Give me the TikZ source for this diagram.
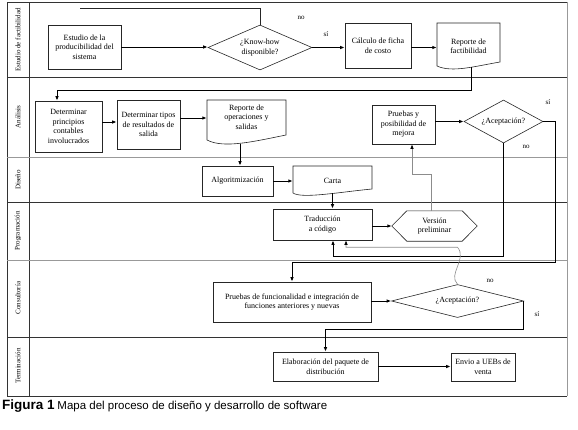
\documentclass[tikz,border=0pt]{standalone}
\usepackage{fontspec}
\setmainfont{Liberation Serif}
\newfontfamily\capfont{Liberation Sans}
\usetikzlibrary{shapes.geometric,arrows.meta,calc}
\begin{document}
\begin{tikzpicture}[x=1pt,y=-1pt,
  box/.style={draw=black!85, line width=0.6pt, rectangle, align=center, inner sep=1pt, font=\fontsize{8}{9.5}\selectfont},
  txt/.style={rectangle, align=center, inner sep=1pt, font=\fontsize{8}{9.5}\selectfont},
  dia/.style={draw=black!85, line width=0.6pt, diamond, align=center, inner sep=0pt, font=\fontsize{8}{9.5}\selectfont},
  shp/.style={draw=black!85, line width=0.6pt},
  arr/.style={line width=1pt, black, -{Latex[length=4.5pt,width=3.5pt]}},
  garr/.style={line width=0.6pt, black!45, -{Latex[length=4.5pt,width=3.5pt,color=black]}},
  plain/.style={line width=0.8pt, black!85},
  lbl/.style={rotate=90, font=\fontsize{7}{8}\selectfont, inner sep=0pt},
  yn/.style={font=\fontsize{7}{8}\selectfont, inner sep=0pt},
  lanedark/.style={line width=0.7pt, black!80},
  lanegray/.style={line width=0.6pt, black!40}
]
\useasboundingbox (0,0) rectangle (578,429);

% frame and lanes
\draw[lanedark] (567,2) -- (7,2) -- (7,396) -- (567,396);
\draw[lanegray] (567,2) -- (567,396);
\draw[lanedark] (29,2) -- (29,396);
\draw[lanedark] (7,77.5) -- (567,77.5);
\draw[lanegray] (7,157) -- (567,157);
\draw[lanedark] (7,202) -- (567,202);
\draw[lanegray] (7,260) -- (567,260);
\draw[lanedark] (7,337) -- (567,337);

% lane labels
\node[lbl] (l1) at (18,40) {Estudio de factibilidad};
\node[lbl] (l2) at (18,117) {Análisis};
\node[lbl] (l3) at (18,180) {Diseño};
\node[lbl] (l4) at (18,231) {Programación};
\node[lbl] (l5) at (18,298) {Consultoría};
\node[lbl] (l6) at (18,366) {Terminación};

% nodes
\node[box, minimum width=73, minimum height=44] (est) at (84.5,47) {Estudio de la\\producibilidad del\\sistema};
\node[dia, minimum width=104, minimum height=45, shape aspect=2.3] (kh) at (260,47.5) {¿Know-how\\disponible?};
\node[box, minimum width=66, minimum height=45] (calc) at (378,45.5) {Cálculo de ficha\\de costo};
\node[txt, minimum width=63, minimum height=47] (repf) at (468.5,46.5) {Reporte de\\factibilidad};
\draw[shp] (437,66) -- (437,23) -- (500,23) -- (500,62) .. controls (476,66) and (452,73) .. cycle;

\node[box, minimum width=67, minimum height=51] (det1) at (68.5,126.5) {Determinar\\principios\\contables\\involucrados};
\node[box, minimum width=63, minimum height=49] (det2) at (148.5,124.5) {Determinar tipos\\de resultados de\\salida};
\node[txt, minimum width=79, minimum height=34] (repo) at (246.5,117) {Reporte de\\operaciones y\\salidas};
\draw[shp] (207,140) -- (207,100) -- (286,100) -- (286,135) .. controls (256,141) and (224,149) .. cycle;

\node[box, minimum width=63, minimum height=39] (prue) at (403.5,124.5) {Pruebas y\\posibilidad de\\mejora};
\node[dia, minimum width=79, minimum height=43, shape aspect=1.84] (acep1) at (503.5,121.5) {¿Aceptación?};

\node[box, minimum width=71, minimum height=30] (alg) at (237.5,181) {Algoritmización};
\node[txt, minimum width=79, minimum height=30] (carta) at (332.5,181) {Carta};
\draw[shp] (293,193) -- (293,166) -- (372,166) -- (372,189) .. controls (340,192) and (302,199) .. cycle;

\node[box, minimum width=99, minimum height=31] (trad) at (322.5,224.5) {Traducción\\a código};
\node[txt, minimum width=85, minimum height=30] (ver) at (434.5,226) {Versión\\preliminar};
\draw[shp] (ver.west) -- ($(ver.north west)+(15,0)$) -- ($(ver.north east)+(-15,0)$) -- (ver.east) -- ($(ver.south east)+(-15,0)$) -- ($(ver.south west)+(15,0)$) -- cycle;

\node[box, minimum width=158, minimum height=40] (pfun) at (292,302) {Pruebas de funcionalidad e integración de\\funciones anteriores y nuevas};
\node[dia, minimum width=132, minimum height=33, shape aspect=4] (acep2) at (457.5,301) {¿Aceptación?};

\node[box, minimum width=105, minimum height=29] (elab) at (325.5,366.5) {Elaboración del paquete de\\distribución};
\node[box, minimum width=64, minimum height=28] (envio) at (483,367) {Envio a UEBs de\\venta};

% yes/no labels
\node[yn] (n1) at (301,18) {no};
\node[yn] (s1) at (326,34) {sí};
\node[yn] (s2) at (548,102) {sí};
\node[yn] (n2) at (526,147) {no};
\node[yn] (n3) at (490,281) {no};
\node[yn] (s3) at (537,314) {sí};

% connectors
\coordinate (noend) at (80,8);
\draw[plain] (kh.north) |- (noend);
\draw[arr] (est.east) -- (est.east -| kh.west);
\draw[arr] (kh.east) -- (kh.east -| calc.west);
\draw[arr] (kh.east -| calc.east) -- (kh.east -| repf.west);
\draw[arr] ($(repf.south)+(2.5,-3)$) |- ($(det1.north)+(-11.5,-10)$) -- ($(det1.north)+(-11.5,0)$);
\draw[arr] ([yshift=4.5]det1.east) -- ([yshift=4.5]det1.east -| det2.west);
\draw[arr] ([yshift=6.5]det2.east) -- ([yshift=6.5]det2.east -| repo.west);
\draw[arr] ($(alg.north)+(2.5,-22)$) -- ([xshift=2.5]alg.north);
\draw[arr] (alg.east) -- (alg.east -| carta.west);
\draw[arr] ($(carta.south)+(0,-3)$) -- (carta.south |- trad.north);
\draw[arr] (trad.east |- ver.west) -- (ver.west);
\draw[garr] ([xshift=-3.5]ver.north) |- ($(prue.south)+(8.5,30)$) -- ([xshift=8.5]prue.south);
\draw[arr] (prue.east |- acep1.west) -- (acep1.west);
\draw[arr] (acep1.east) -- ++(12,0) |- ($(pfun.north)+(0,-19)$) -- (pfun.north);
\draw[arr] (acep1.south) |- ($(trad.south)+(10.5,16)$) -- ([xshift=10.5]trad.south);
\coordinate (w) at ($(acep2.north)+(0,-37)$);
\draw[garr] (acep2.north) .. controls +(-10,-10) and +(10,12) .. (w) -| ([xshift=23.5]trad.south);
\draw[arr] (pfun.east |- acep2.west) -- (acep2.west);
\draw[arr] (acep2.east) |- ($(elab.north)+(0,-22)$) -- (elab.north);
\draw[arr] (elab.east) -- (elab.east -| envio.west);

% caption
\node[anchor=base west, inner sep=0pt, font=\capfont] (cap) at (2,409) {{\fontsize{13.5}{15}\selectfont\bfseries Figura 1} {\fontsize{11.5}{13}\selectfont Mapa del proceso de diseño y desarrollo de software}};
\end{tikzpicture}
\end{document}
